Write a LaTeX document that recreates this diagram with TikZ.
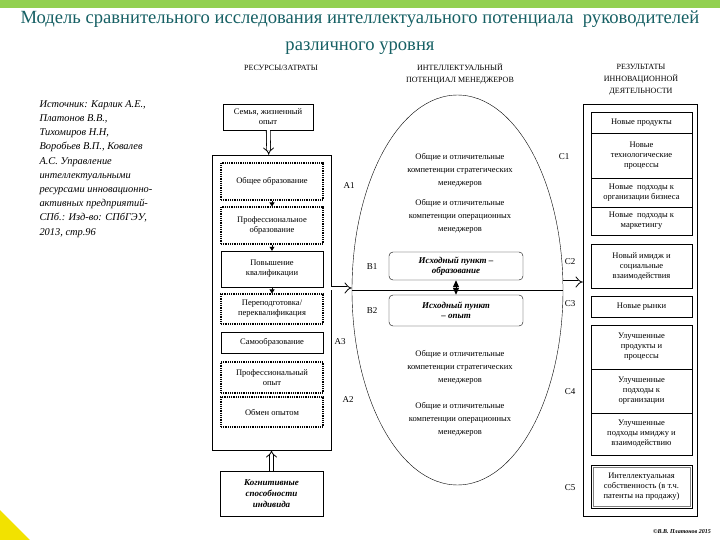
\documentclass[tikz,border=0pt]{standalone}
\usepackage{fontspec}
\setmainfont{Liberation Serif}
\usepackage{tikz}
\usetikzlibrary{shapes.geometric, arrows.meta, calc}
\usepackage{xcolor}
\definecolor{tituloverde}{RGB}{22,96,100}
\definecolor{barraverde}{RGB}{146,208,80}
\definecolor{cantoamarelo}{RGB}{242,226,0}
\tikzset{
    caixa/.style={draw=black, thin, align=center, inner sep=1pt, font=\fontsize{8.5}{10}\selectfont},
    pontilhada/.style={caixa, line width=1.1pt, dash pattern=on 1pt off 0.8pt},
    arredondada/.style={caixa, rounded corners=4pt, font=\fontsize{9}{10.5}\selectfont\bfseries\itshape},
    cabecalho/.style={align=center, font=\fontsize{8}{12}\selectfont},
    rotulo/.style={font=\fontsize{9}{10}\selectfont},
    texto/.style={align=center, font=\fontsize{8.5}{13}\selectfont},
    seta/.style={draw=black, line width=0.8pt, double=white, double distance=3pt, -{Implies}},
    ponta/.style={thick, -{Triangle[width=5pt,length=4pt]}}
}

\begin{document}
\begin{tikzpicture}[x=1pt, y=-1pt]
    \useasboundingbox (0,0) rectangle (720,540);
    \fill[barraverde] (0,0) rectangle (720,8);
    \fill[cantoamarelo] (0,510) -- (30,540) -- (0,540) -- cycle;
    \node[font=\fontsize{18.6}{27}\selectfont, text=tituloverde, align=center] (titulo) at (360,33)
        {Модель сравнительного исследования интеллектуального потенциала \ руководителей\\различного уровня};
    \node[anchor=north west, align=left, font=\fontsize{10.4}{14.2}\selectfont\itshape] (fonte) at (36,97)
        {Источник: Карлик А.Е.,\\Платонов В.В.,\\Тихомиров Н.Н,\\Воробьев В.П., Ковалев\\А.С. Управление\\интеллектуальными\\ресурсами инновационно-\\активных предприятий-\\СПб.: Изд-во: СПбГЭУ,\\2013, стр.96};

    % colunas
    \node[cabecalho] (cab1) at (281,68) {РЕСУРСЫ/ЗАТРАТЫ};
    \node[cabecalho] (cab2) at (460,74) {ИНТЕЛЛЕКТУАЛЬНЫЙ\\ПОТЕНЦИАЛ МЕНЕДЖЕРОВ};
    \node[cabecalho] (cab3) at (641,80) {РЕЗУЛЬТАТЫ\\ИННОВАЦИОННОЙ\\ДЕЯТЕЛЬНОСТИ};

    \node[caixa, minimum width=90pt, minimum height=26pt] (semya) at (268,117) {Семья, жизненный\\опыт};
    \node[draw, thin, minimum width=119pt, minimum height=295pt] (resursy) at (271.5,302.5) {};
    \node[pontilhada, minimum width=102pt, minimum height=37pt] (obsh) at (272,181.5) {Общее образование};
    \node[pontilhada, minimum width=102pt, minimum height=37pt] (prof) at (272,225.5) {Профессиональное\\образование};
    \node[caixa, minimum width=102pt, minimum height=36pt] (povysh) at (272,269) {Повышение\\квалификации};
    \node[pontilhada, minimum width=102pt, minimum height=30pt] (perepod) at (272,309) {Переподготовка/\\переквалификация};
    \node[caixa, minimum width=102pt, minimum height=21pt] (samo) at (272,342.5) {Самообразование};
    \node[pontilhada, minimum width=102pt, minimum height=31pt] (opyt) at (272,377.5) {Профессиональный\\опыт};
    \node[pontilhada, minimum width=102pt, minimum height=30pt] (obmen) at (272,412) {Обмен опытом};
    \node[caixa, minimum width=103pt, minimum height=45pt, font=\fontsize{9}{11}\selectfont\bfseries\itshape] (kognit) at (271.5,493.5) {Когнитивные\\способности\\индивида};

    \draw[ponta] (obsh) -- (prof);
    \draw[ponta] (prof) -- (povysh);
    \draw[ponta] (povysh) -- (perepod);
    \draw[seta] (semya) -- (resursy);
    \draw[seta] (kognit) -- (resursy);

    \node[draw, thin, ellipse, minimum width=211pt, minimum height=390pt, inner sep=0pt] (potencial) at (457.5,290) {};
    \node[texto] (strat1) at (460,170) {Общие и отличительные\\компетенции стратегических\\менеджеров};
    \node[texto] (oper1) at (460,216) {Общие и отличительные\\компетенции операционных\\менеджеров};
    \node[texto] (strat2) at (460,367) {Общие и отличительные\\компетенции стратегических\\менеджеров};
    \node[texto] (oper2) at (460,419) {Общие и отличительные\\компетенции операционных\\менеджеров};
    \node[arredondada, minimum width=134pt, minimum height=28pt] (ish1) at (456,266) {Исходный пункт –\\образование};
    \node[arredondada, minimum width=134pt, minimum height=31pt] (ish2) at (456,310.5) {Исходный пункт\\– опыт};
    \draw (potencial.west) -- (potencial.east);
    \draw[line width=1pt, {Triangle[width=6pt,length=7pt]}-{Triangle[width=6pt,length=7pt]}] (ish1) -- (ish2);
    \coordinate (saida) at ([yshift=2pt]resursy.east |- potencial.west);
    \coordinate (chegada) at ([yshift=2pt]potencial.west);
    \draw[seta] (saida) -- (chegada);

    \node[rotulo] (a1) at (349,186) {A1};
    \node[rotulo] (a3) at (340,342) {A3};
    \node[rotulo] (a2) at (348,400) {A2};
    \node[rotulo] (b1) at (372,267) {B1};
    \node[rotulo] (b2) at (372,311) {B2};
    \node[rotulo] (c1) at (564,157) {C1};
    \node[rotulo] (c2) at (570,262) {C2};
    \node[rotulo] (c3) at (570,304) {C3};
    \node[rotulo] (c4) at (570,392) {C4};
    \node[rotulo] (c5) at (570,488) {C5};

    \node[draw, thin, minimum width=114pt, minimum height=412pt] (rezultaty) at (640,310) {};
    \node[caixa, minimum width=101pt, minimum height=21pt] (np) at (641.5,122.5) {Новые продукты};
    \node[caixa, minimum width=101pt, minimum height=45pt] (ntp) at (641.5,155.5) {Новые\\технологические\\процессы};
    \node[caixa, minimum width=101pt, minimum height=29pt] (npb) at (641.5,192.5) {Новые \ подходы к\\организации бизнеса};
    \node[caixa, minimum width=101pt, minimum height=28pt] (npm) at (641.5,221) {Новые \ подходы к\\маркетингу};
    \node[caixa, minimum width=101pt, minimum height=44pt] (nim) at (641.5,266) {Новый имидж и\\социальные\\взаимодействия};
    \node[caixa, minimum width=101pt, minimum height=21pt] (nr) at (641.5,306.5) {Новые рынки};
    \node[caixa, minimum width=101pt, minimum height=44pt] (upp) at (641.5,347) {Улучшенные\\продукты и\\процессы};
    \node[caixa, minimum width=101pt, minimum height=44pt] (upo) at (641.5,391) {Улучшенные\\подходы к\\организации};
    \node[caixa, minimum width=101pt, minimum height=42pt] (upi) at (641.5,434) {Улучшенные\\подходы имиджу и\\взаимодействию};
    \node[caixa, line width=0.9pt, minimum width=101pt, minimum height=43pt] (ints) at (641.5,486.5) {Интеллектуальная\\собственность (в т.ч.\\патенты на продажу)};
    \draw[gray] ($(ints.north west)+(2.5,2.5)$) rectangle ($(ints.south east)+(-2.5,-2.5)$);
    \coordinate (inicio) at ([yshift=8pt]potencial.east);
    \coordinate (entrada) at (rezultaty.west |- inicio);
    \draw[seta] (inicio) -- (entrada);

    \node[font=\fontsize{6}{7}\selectfont\bfseries\itshape] (autor) at (682,532) {©В.В. Платонов 2015};
\end{tikzpicture}
\end{document}
